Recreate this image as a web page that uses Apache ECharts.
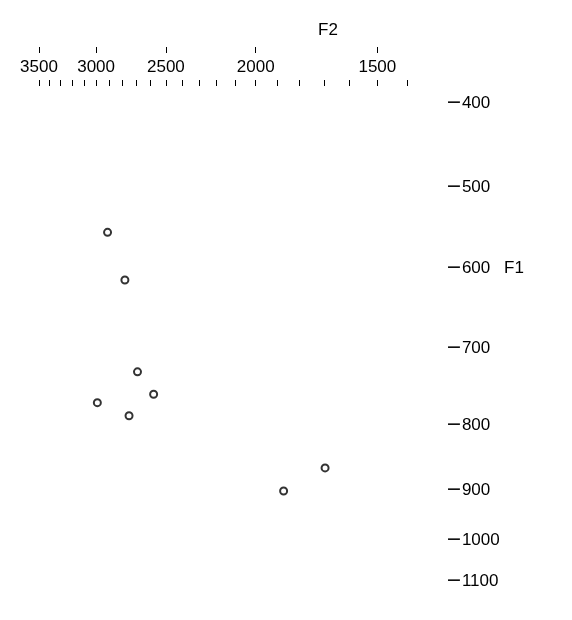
<!DOCTYPE html>
<html>
<head>
<meta charset="utf-8">
<script src="https://cdn.jsdelivr.net/npm/echarts@6/dist/echarts.min.js"></script>
<style>
html,body{margin:0;padding:0;background:#fff;}
#chart{width:572px;height:620px;}
</style>
</head>
<body>
<div id="chart"></div>
<script>
// ---- data ----
const F2_MAJOR_TICKS = [3500, 3000, 2500, 2000, 1500];
const F2_MINOR_TICKS = [3500, 3400, 3300, 3200, 3100, 3000, 2900, 2800, 2700, 2600, 2500, 2400, 2300, 2200, 2100, 2000, 1900, 1800, 1700, 1600, 1500, 1400];
const F1_TICKS = [-400, -500, -600, -700, -800, -900, -1000, -1100];
const F2_VALUES = [2910, 2780, 2690, 2580, 2990, 2750, 1695, 1870];
const F1_VALUES = [-556, -615, -731, -760, -771, -788, -866, -902];

// ---- scales ----
// F2: Bark (Zwicker)
function bark(f) {
  return 13 * Math.atan(0.00076 * f) + 3.5 * Math.atan(Math.pow(f / 7500, 2));
}
// F1: non-linear axis of the original, described by its tick spacing (axis units per tick)
const F1_SCALE_HZ = [400, 500, 600, 700, 800, 900, 1000, 1100];
const F1_SCALE_UNITS = [0, 84, 165, 245, 322, 387, 437, 478];
function f1u(v) {
  const hz = -v;
  const H = F1_SCALE_HZ, U = F1_SCALE_UNITS;
  let i = 0;
  while (i < H.length - 2 && hz > H[i + 1]) i++;
  return U[i] + (hz - H[i]) * (U[i + 1] - U[i]) / (H[i + 1] - H[i]);
}
function nearestLabel(v, ticks, fn) {
  let best = ticks[0], bd = Infinity;
  ticks.forEach(t => { const d = Math.abs(fn(t) - v); if (d < bd) { bd = d; best = t; } });
  return best;
}

const xMin = bark(1400), xMax = bark(3500);
const yMin = -17, yMax = f1u(-1100);

const points = F2_VALUES.map((f2, i) => [bark(f2), f1u(F1_VALUES[i])]);

const FONT = '"Liberation Sans", Arial, sans-serif';
const FS = 17;

const chart = echarts.init(document.getElementById('chart'), null, {renderer: 'canvas'});
chart.setOption({
  animation: false,
  backgroundColor: '#fff',
  grid: {left: 39, right: 165, top: 86, bottom: 39, containLabel: false, outerBoundsMode: 'none'},
  xAxis: [
    {
      type: 'value', position: 'top', inverse: true, min: xMin, max: xMax,
      axisLine: {show: false, onZero: false}, splitLine: {show: false},
      axisTick: {show: true, length: 6, inside: false, lineStyle: {color: '#000', width: 1},
        customValues: F2_MINOR_TICKS.map(bark)},
      axisLabel: {show: false}
    },
    {
      type: 'value', position: 'top', offset: 33, inverse: true, min: xMin, max: xMax,
      axisLine: {show: false, onZero: false}, splitLine: {show: false},
      axisTick: {show: true, length: 6, inside: false, lineStyle: {color: '#000', width: 1},
        customValues: F2_MAJOR_TICKS.map(bark)},
      axisLabel: {show: true, inside: true, margin: 6, color: '#000', fontSize: FS, fontFamily: FONT,
        customValues: F2_MAJOR_TICKS.map(bark), hideOverlap: false,
        formatter: v => String(nearestLabel(v, F2_MAJOR_TICKS, bark))}
    }
  ],
  yAxis: {
    type: 'value', position: 'right', inverse: true, min: yMin, max: yMax,
    axisLine: {show: false, onZero: false}, splitLine: {show: false}, axisTick: {show: false},
    axisLabel: {show: true, margin: 39, color: '#000', fontSize: FS, fontFamily: FONT,
      customValues: F1_TICKS.map(f1u), hideOverlap: false,
      formatter: v => {
        const t = nearestLabel(v, F1_TICKS, f1u);
        return '{m|\u2212}{d|' + Math.abs(t) + '}';
      },
      rich: {
        m: {fontFamily: '"DejaVu Sans"', fontSize: 19, color: '#000'},
        d: {fontFamily: FONT, fontSize: FS, color: '#000'}
      }
    }
  },
  graphic: [
    {type: 'text', left: 318, top: 22, style: {text: 'F2', font: FS + 'px ' + FONT, fill: '#000'}},
    {type: 'text', left: 504, top: 260, style: {text: 'F1', font: FS + 'px ' + FONT, fill: '#000'}}
  ],
  series: [{
    type: 'scatter', xAxisIndex: 0, yAxisIndex: 0, data: points,
    symbol: 'emptyCircle', symbolSize: 7,
    itemStyle: {color: '#000', borderColor: '#000', borderWidth: 1.3}
  }]
});
</script>
</body>
</html>
